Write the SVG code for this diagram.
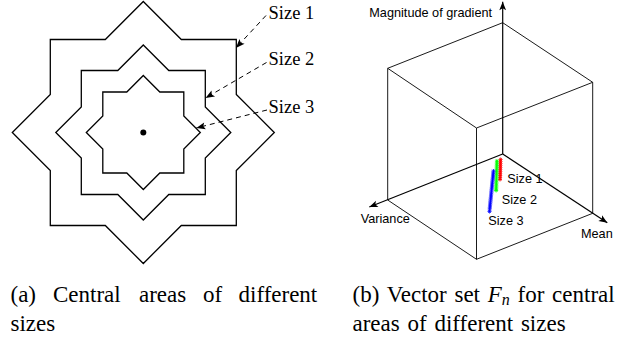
<svg xmlns="http://www.w3.org/2000/svg" width="626" height="341" viewBox="0 0 626 341">
<style>
.star{fill:none;stroke:#000;stroke-width:1.3;stroke-linejoin:miter}
.lead{fill:none;stroke:#000;stroke-width:1;stroke-dasharray:5 4}
.cube{fill:none;stroke:#000;stroke-width:0.9}
.axis{fill:none;stroke:#000;stroke-width:1.2}
.serif{font-family:"Liberation Serif","Times New Roman",serif;fill:#000}
.sans{font-family:"Liberation Sans",Arial,sans-serif;font-size:12.7px;fill:#000}
.cap{font-size:23px}
.lbl{font-size:18.5px}
</style>
<defs>
<marker id="tri" markerUnits="userSpaceOnUse" markerWidth="10" markerHeight="8" refX="9" refY="3.5" orient="auto" overflow="visible">
<path d="M0,0 L9,3.5 L0,7 L1.8,3.5 z" fill="#000"/>
</marker>
<marker id="ax" markerUnits="userSpaceOnUse" markerWidth="10" markerHeight="8" refX="8.5" refY="3.4" orient="auto" overflow="visible">
<path d="M0,0 L8.5,3.4 L0,6.8 L2,3.4 z" fill="#000"/>
</marker>
<marker id="sr" markerUnits="userSpaceOnUse" markerWidth="6" markerHeight="6" refX="0" refY="0" overflow="visible">
<path d="M-2,0H2M0,-2V2M-1.4,-1.4L1.4,1.4M-1.4,1.4L1.4,-1.4" stroke="#ff0000" stroke-width="0.8" fill="none"/>
</marker>
<marker id="sg" markerUnits="userSpaceOnUse" markerWidth="6" markerHeight="6" refX="0" refY="0" overflow="visible">
<path d="M-2,0H2M0,-2V2M-1.4,-1.4L1.4,1.4M-1.4,1.4L1.4,-1.4" stroke="#00ff00" stroke-width="0.8" fill="none"/>
</marker>
<marker id="sb" markerUnits="userSpaceOnUse" markerWidth="6" markerHeight="6" refX="0" refY="0" overflow="visible">
<path d="M-2,0H2M0,-2V2M-1.4,-1.4L1.4,1.4M-1.4,1.4L1.4,-1.4" stroke="#0000ff" stroke-width="0.8" fill="none"/>
</marker>
</defs>

<!-- (a) Central areas -->
<g id="size1-area">
<polygon class="star" points="143.3,1.5 181.3,39.5 236.3,39.5 236.3,94.5 274.3,132.5 236.3,170.5 236.3,225.5 181.3,225.5 143.3,263.5 105.3,225.5 50.3,225.5 50.3,170.5 12.3,132.5 50.3,94.5 50.3,39.5 105.3,39.5"/>
</g>
<g id="size2-area">
<polygon class="star" points="143.3,45 168.8,70.5 205.3,70.5 205.3,107 230.8,132.5 205.3,158 205.3,194.5 168.8,194.5 143.3,220 117.8,194.5 81.3,194.5 81.3,158 55.8,132.5 81.3,107 81.3,70.5 117.8,70.5"/>
</g>
<g id="size3-area">
<polygon class="star" points="143.3,75.5 159.8,92 183.8,92 183.8,116 200.3,132.5 183.8,149 183.8,173 159.8,173 143.3,189.5 126.8,173 102.8,173 102.8,149 86.3,132.5 102.8,116 102.8,92 126.8,92"/>
</g>
<g id="center">
<circle cx="143.3" cy="132.5" r="3" fill="#000"/>
</g>
<g id="labels-a" class="serif lbl">
<text x="268.5" y="18.5">Size 1</text>
<text x="268.5" y="65">Size 2</text>
<text x="268.5" y="113.3">Size 3</text>
</g>
<g id="leaders">
<line class="lead" x1="266" y1="15.5" x2="235.9" y2="48" marker-end="url(#tri)"/>
<line class="lead" x1="266.5" y1="62.5" x2="205.5" y2="98" marker-end="url(#tri)"/>
<line class="lead" x1="267" y1="110" x2="196.3" y2="128" marker-end="url(#tri)"/>
</g>

<!-- (b) Vector set -->
<g id="cube">
<polyline class="cube" points="387.7,200 387.7,68.3 502.7,22.7 592.7,82.3 592.7,213.3 476.5,259.3 387.7,200"/>
<polyline class="cube" points="387.7,68.3 476.5,128 592.7,82.3"/>
<line class="cube" x1="476.5" y1="128" x2="476.5" y2="259.3"/>
</g>
<g id="axes">
<line class="axis" x1="502.7" y1="154" x2="502.7" y2="1.7" marker-end="url(#ax)"/>
<line class="axis" x1="502.7" y1="154" x2="369.3" y2="207" marker-end="url(#ax)"/>
<line class="axis" x1="502.7" y1="154" x2="607.3" y2="222.8" marker-end="url(#ax)"/>
</g>
<g id="axis-labels" class="sans">
<text x="369.3" y="16.7">Magnitude of gradient</text>
<text x="360.7" y="222.7">Variance</text>
<text x="581" y="238.3">Mean</text>
</g>
<g id="series-size1">
<polyline points="500.6,159.5 500.5,161.5 500.5,163.5 500.4,165.5 500.4,167.5 500.3,169.5 500.3,171.5 500.2,173.5 500.2,175.5 500.1,177.5 500,179.5" fill="none" stroke="#ff8080" stroke-width="1" marker-start="url(#sr)" marker-mid="url(#sr)" marker-end="url(#sr)"/>
<text class="sans" x="507.3" y="183.3">Size 1</text>
</g>
<g id="series-size2">
<polyline points="496.9,161 496.85,163 496.8,165 496.75,167 496.7,169 496.65,171 496.6,173 496.55,175 496.5,177 496.45,179 496.4,181 496.35,183 496.3,185 496.25,187 496.2,189 496.15,190.5" fill="none" stroke="#80ff80" stroke-width="1" marker-start="url(#sg)" marker-mid="url(#sg)" marker-end="url(#sg)"/>
<text class="sans" x="501.7" y="204">Size 2</text>
</g>
<g id="series-size3">
<polyline points="493.5,171 493.3,173 493.1,175 492.9,177 492.7,179 492.5,181 492.3,183 492.1,185 491.9,187 491.7,189 491.5,191 491.3,193 491.1,195 490.9,197 490.7,199 490.5,201 490.3,203 490.1,205 489.9,207 489.7,209 489.5,211.5" fill="none" stroke="#8080ff" stroke-width="1" marker-start="url(#sb)" marker-mid="url(#sb)" marker-end="url(#sb)"/>
<text class="sans" x="488.3" y="225">Size 3</text>
</g>

<!-- captions -->
<g id="caption-a" class="serif cap">
<text y="301.5"><tspan x="10.5">(a)</tspan><tspan x="53">Central</tspan><tspan x="139">areas</tspan><tspan x="203">of</tspan><tspan x="238.5">different</tspan></text>
<text x="10.5" y="330.5">sizes</text>
</g>
<g id="caption-b" class="serif cap" word-spacing="2">
<text x="352.5" y="301.5">(b) Vector set <tspan font-style="italic">F</tspan><tspan font-style="italic" font-size="16" dy="3.5">n</tspan><tspan dy="-3.5"> for central</tspan></text>
<text x="352.5" y="330.5">areas of different sizes</text>
</g>
</svg>
